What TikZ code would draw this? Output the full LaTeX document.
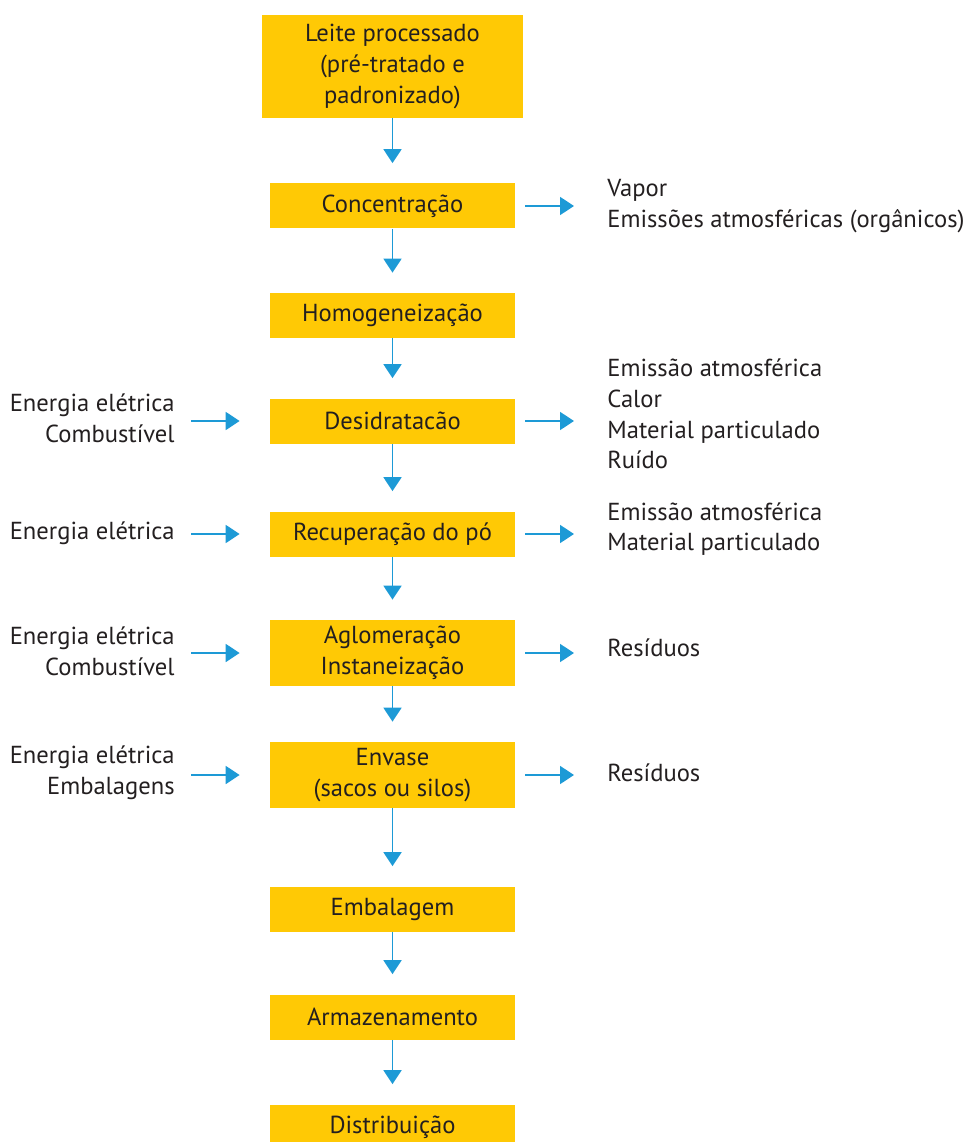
\documentclass[tikz,border=0pt]{standalone}
\usepackage{fontspec}
\setmainfont{PT Sans}
\usepackage{tikz}
\usetikzlibrary{arrows.meta,positioning,calc}
\definecolor{Gold}{HTML}{FFC905}
\definecolor{Sky}{HTML}{1D9AD6}
\definecolor{Ink}{HTML}{231F20}

\begin{document}
\begin{tikzpicture}[every node/.style={font=\fontsize{14}{17.4}\selectfont,text=Ink},
  box/.style={fill=Gold,minimum width=4.9cm,minimum height=0.9cm,align=center,inner sep=0pt},
  tallbox/.style={box,minimum height=1.32cm},
  intxt/.style={anchor=east,align=right,inner sep=0pt},
  outtxt/.style={anchor=west,align=left,inner sep=0pt},
  flow/.style={draw=Sky,line width=1pt,-{Triangle[width=0.36cm,length=0.28cm]},Sky}]
  \useasboundingbox (0,0) rectangle (19.34,-22.84);
  % main line
  \node[box,minimum width=5.22cm,minimum height=2.06cm] (leite) at (7.85,-1.33) {Leite processado\\(pré-tratado e\\padronizado)};
  \node[box] (conc) at (7.85,-4.12) {Concentração};
  \node[box] (homog) at (7.85,-6.31) {Homogeneização};
  \node[box] (desid) at (7.85,-8.42) {Desidratacão};
  \node[box] (recup) at (7.85,-10.68) {Recuperação do pó};
  \node[tallbox] (aglom) at (7.85,-13.06) {Aglomeração\\Instaneização};
  \node[tallbox] (envase) at (7.85,-15.5) {Envase\\(sacos ou silos)};
  \node[box] (embal) at (7.85,-18.18) {Embalagem};
  \node[box] (armaz) at (7.85,-20.34) {Armazenamento};
  \node[box] (distrib) at (7.85,-22.54) {Distribuição};
  \draw[flow,shorten >=0.4cm] (leite) -- (conc);
  \draw[flow,shorten >=0.4cm] (conc) -- (homog);
  \draw[flow,shorten >=0.4cm] (homog) -- (desid);
  \draw[flow,shorten >=0.4cm] (desid) -- (recup);
  \draw[flow,shorten >=0.4cm] (recup) -- (aglom);
  \draw[flow,shorten >=0.4cm] (aglom) -- (envase);
  \draw[flow,shorten >=0.4cm] (envase) -- (embal);
  \draw[flow,shorten >=0.4cm] (embal) -- (armaz);
  \draw[flow,shorten >=0.4cm] (armaz) -- (distrib);
  % inputs
  \node[intxt] (indesid) at (3.5,-8.37) {Energia elétrica\\Combustível};
  \node[intxt] (inrecup) at (3.5,-10.66) {Energia elétrica};
  \node[intxt] (inaglom) at (3.5,-13.02) {Energia elétrica\\Combustível};
  \node[intxt] (inenvase) at (3.5,-15.46) {Energia elétrica\\Embalagens};
  \draw[flow,shorten <=0.32cm,shorten >=0.6cm] (indesid.east |- desid) -- (desid.west);
  \draw[flow,shorten <=0.32cm,shorten >=0.6cm] (inrecup.east |- recup) -- (recup.west);
  \draw[flow,shorten <=0.32cm,shorten >=0.6cm] (inaglom.east |- aglom) -- (aglom.west);
  \draw[flow,shorten <=0.32cm,shorten >=0.6cm] (inenvase.east |- envase) -- (envase.west);
  % outputs
  \node[outtxt] (outconc) at (12.14,-4.12) {Vapor\\Emissões atmosféricas (orgânicos)};
  \node[outtxt] (outdesid) at (12.14,-8.28) {Emissão atmosférica\\Calor\\Material particulado\\Ruído};
  \node[outtxt] (outrecup) at (12.14,-10.58) {Emissão atmosférica\\Material particulado};
  \node[outtxt] (outaglom) at (12.14,-12.96) {Resíduos};
  \node[outtxt] (outenvase) at (12.14,-15.46) {Resíduos};
  \draw[flow,shorten <=0.2cm,shorten >=0.66cm] (conc.east) -- (conc -| outconc.west);
  \draw[flow,shorten <=0.2cm,shorten >=0.66cm] (desid.east) -- (desid -| outdesid.west);
  \draw[flow,shorten <=0.2cm,shorten >=0.66cm] (recup.east) -- (recup -| outrecup.west);
  \draw[flow,shorten <=0.2cm,shorten >=0.66cm] (aglom.east) -- (aglom -| outaglom.west);
  \draw[flow,shorten <=0.2cm,shorten >=0.66cm] (envase.east) -- (envase -| outenvase.west);
\end{tikzpicture}
\end{document}
